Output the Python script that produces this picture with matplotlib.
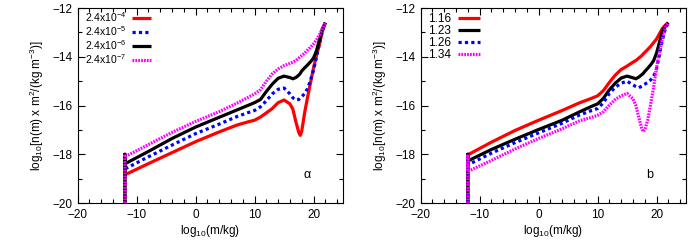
import matplotlib
matplotlib.use("Agg")
import matplotlib.pyplot as plt
import numpy as np

plt.rcParams['font.family'] = ['Liberation Sans', 'DejaVu Sans']
plt.rcParams['mathtext.fontset'] = 'custom'
plt.rcParams['mathtext.rm'] = 'Liberation Sans'
plt.rcParams['mathtext.it'] = 'Liberation Sans:italic'

# common mass grid (log10 m/kg)
x = [-12, -8, -4, 0, 4, 7, 9, 10, 11, 12, 13, 14, 15, 16, 16.5, 17, 17.5, 17.75,
     18, 18.5, 19, 19.5, 20, 20.5, 21, 21.5, 22]
x_min = -12
spike_top = -18.0
floor = -20

# panel a
labels_a = ["2.4x10$^{-4}$", "2.4x10$^{-5}$", "2.4x10$^{-6}$", "2.4x10$^{-7}$"]
a_red = [-18.84, -18.38, -17.93, -17.48, -17.08, -16.8, -16.66, -16.6, -16.47, -16.3, -16.12,
         -15.88, -15.77, -15.93, -16.15, -16.66, -17.1, -17.22, -17.05, -16.28, -15.65, -15.05,
         -14.45, -13.95, -13.5, -12.95, -12.6]
a_blue = [-18.6, -18.1, -17.62, -17.15, -16.76, -16.45, -16.28, -16.2, -16.05, -15.8, -15.52,
          -15.33, -15.28, -15.52, -15.68, -15.77, -15.75, -15.7, -15.64, -15.5, -15.3, -14.95,
          -14.55, -14.0, -13.45, -12.95, -12.6]
a_black = [-18.39, -17.88, -17.35, -16.88, -16.48, -16.18, -15.98, -15.88, -15.75, -15.42, -15.12,
           -14.88, -14.79, -14.85, -14.9, -14.85, -14.75, -14.68, -14.58, -14.45, -14.33, -14.2,
           -14.05, -13.75, -13.3, -12.85, -12.6]
a_mag = [-18.1, -17.6, -17.1, -16.65, -16.25, -15.9, -15.65, -15.52, -15.35, -15.0, -14.7,
         -14.5, -14.36, -14.27, -14.22, -14.15, -14.05, -14.0, -13.95, -13.85, -13.72, -13.6,
         -13.47, -13.3, -13.1, -12.85, -12.6]

# panel b
labels_b = ["1.16", "1.23", "1.26", "1.34"]
b_red = [-18.02, -17.5, -17.02, -16.6, -16.2, -15.88, -15.7, -15.6, -15.38, -15.05, -14.75,
         -14.52, -14.38, -14.22, -14.15, -14.05, -13.95, -13.88, -13.82, -13.7, -13.57, -13.42,
         -13.27, -13.05, -12.83, -12.7, -12.6]
b_black = [-18.27, -17.8, -17.38, -16.98, -16.6, -16.25, -16.03, -15.93, -15.7, -15.35, -15.08,
           -14.87, -14.79, -14.86, -14.9, -14.83, -14.73, -14.68, -14.6, -14.47, -14.33, -14.16,
           -13.85, -13.4, -12.95, -12.75, -12.6]
b_blue = [-18.43, -17.95, -17.52, -17.12, -16.72, -16.38, -16.2, -16.12, -15.88, -15.5, -15.25,
          -15.08, -15.0, -15.15, -15.22, -15.27, -15.2, -15.15, -15.12, -15.05, -14.95, -14.8,
          -14.5, -13.9, -13.3, -12.85, -12.6]
b_mag = [-18.7, -18.25, -17.78, -17.35, -16.95, -16.62, -16.48, -16.4, -16.25, -15.98, -15.75,
         -15.6, -15.5, -15.72, -16.0, -16.5, -16.95, -17.07, -17.0, -16.6, -15.95, -15.25,
         -14.45, -13.8, -13.24, -12.8, -12.6]

RED, BLUE, BLACK, MAG = '#ff0000', '#0000ff', '#000000', '#ff00ff'
LW = 2.3
styles = {
    RED: dict(color=RED, lw=LW, ls='-'),
    BLACK: dict(color=BLACK, lw=LW, ls='-'),
    BLUE: dict(color=BLUE, lw=LW, ls=(0, (1.0, 1.0))),
    MAG: dict(color=MAG, lw=LW, ls=(0, (0.55, 0.35))),
}

fig = plt.figure(figsize=(7.0, 2.45), dpi=100)
ax1 = fig.add_axes([0.111, 0.171, 0.379, 0.796])
ax2 = fig.add_axes([0.601, 0.171, 0.379, 0.796])


def draw(ax, series, labels, tag, spacing, anchor_y, lfs):
    for (yv, c), lab in zip(series, labels):
        xs = [x_min, x_min] + list(x)
        ys = [floor, spike_top] + list(yv)
        ax.plot(xs, ys, label=lab, solid_capstyle='butt', dash_capstyle='butt', **styles[c])
    ax.set_xlim(-20, 25)
    ax.set_ylim(-20, -12)
    ax.set_xticks([-20, -10, 0, 10, 20])
    ax.set_xticks(np.arange(-20, 26, 2), minor=True)
    ax.set_yticks([-20, -18, -16, -14, -12])
    ax.set_yticks(np.arange(-20, -11, 1), minor=True)
    ax.tick_params(which='both', direction='in', top=True, right=True, labelsize=8.5, width=0.8)
    ax.tick_params(which='major', length=5, pad=4)
    ax.tick_params(which='minor', length=3)
    for s in ax.spines.values():
        s.set_linewidth(0.8)
    ax.set_xlabel("log$_{10}$(m/kg)", fontsize=8.5, labelpad=2)
    ax.set_ylabel("log$_{10}$[n(m) x m$^{2}$/(kg m$^{-3}$)]", fontsize=8.5, labelpad=4)
    ax.text(18.9, -18.85, tag, fontsize=9, ha='center', va='center')
    ax.legend(loc='upper left', markerfirst=False, frameon=False, fontsize=lfs,
              handlelength=1.8, handletextpad=0.6, labelspacing=spacing,
              borderaxespad=0.2, borderpad=0.2, bbox_to_anchor=(0.01, anchor_y))


draw(ax1, [(a_red, RED), (a_blue, BLUE), (a_black, BLACK), (a_mag, MAG)], labels_a, "\u03b1",
     0.0, 1.01, 7.5)
draw(ax2, [(b_red, RED), (b_black, BLACK), (b_blue, BLUE), (b_mag, MAG)], labels_b, "b",
     0.0, 1.0, 8.5)

fig.savefig("out.png", dpi=100)
